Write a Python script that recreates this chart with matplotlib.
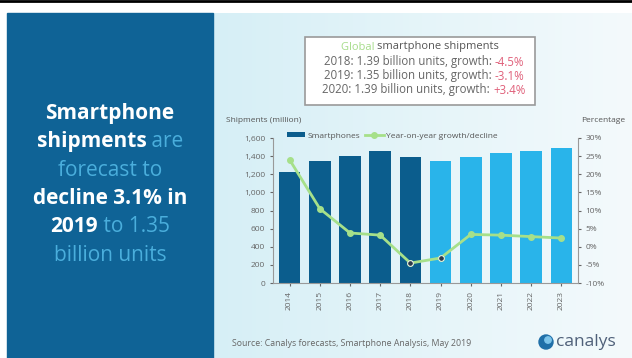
import matplotlib
matplotlib.use("Agg")
import matplotlib.pyplot as plt
import numpy as np
from matplotlib.patches import Rectangle, Circle

plt.rcParams['font.family'] = ['Open Sans', 'DejaVu Sans']

# data
years = ["2014", "2015", "2016", "2017", "2018", "2019", "2020", "2021", "2022", "2023"]
shipments = [1220, 1350, 1400, 1460, 1390, 1350, 1390, 1430, 1460, 1490]
growth = [24.0, 10.5, 3.8, 3.2, -4.5, -3.1, 3.4, 3.2, 2.8, 2.4]
forecast = [False, False, False, False, False, True, True, True, True, True]
box_lines = [("2018: 1.39 billion units, growth: ", "-4.5%"),
             ("2019: 1.35 billion units, growth: ", "-3.1%"),
             ("2020: 1.39 billion units, growth: ", "+3.4%")]

W, H = 632, 358
fig = plt.figure(figsize=(6.32, 3.58), dpi=100)
fig.patch.set_facecolor("white")

def fx(px):
    return px / W

def fy(py):
    return 1 - py / H

# background: dark panel on the left, light gradient on the right
bg = fig.add_axes([0, 0, 1, 1])
bg.axis("off")
grad = np.linspace(0, 1, 256).reshape(1, -1)
bg.imshow(grad, extent=[213, W, H, 13], aspect="auto",
          cmap=matplotlib.colors.LinearSegmentedColormap.from_list("g", ["#d6eff6", "#f4fafc"]))
bg.add_patch(Rectangle((7, 13), 206, H - 13, color="#0f6396"))
bg.plot([0, W], [1, 1], color="black", lw=2)
bg.set_xlim(0, W)
bg.set_ylim(H, 0)

# left panel text, mixed white bold / light blue
light = "#4aaedc"
left_lines = [[("Smartphone", "white", "bold")],
              [("shipments", "white", "bold"), (" are", light, "normal")],
              [("forecast to", light, "normal")],
              [("decline 3.1% in", "white", "bold")],
              [("2019", "white", "bold"), (" to 1.35", light, "normal")],
              [("billion units", light, "normal")]]
renderer = fig.canvas.get_renderer()
cx = 110
for i, parts in enumerate(left_lines):
    y = 113 + i * 28.5
    texts = []
    for s, c, w in parts:
        t = bg.text(0, y, s, color=c, fontweight=w, fontsize=15, va="center", ha="left")
        texts.append(t)
    widths = [t.get_window_extent(renderer).width for t in texts]
    x = cx - sum(widths) / 2
    for t, wd in zip(texts, widths):
        t.set_x(x)
        x += wd

# info box
bg.add_patch(Rectangle((305, 37), 230, 68, facecolor="white", edgecolor="#9a9a9a", lw=1.2))
t1 = bg.text(0, 47, "Global ", color="#a6dc8a", fontsize=8, va="center")
t2 = bg.text(0, 47, "smartphone shipments", color="#555555", fontsize=8, va="center")
w1 = t1.get_window_extent(renderer).width
w2 = t2.get_window_extent(renderer).width
t1.set_x(420 - (w1 + w2) / 2)
t2.set_x(420 - (w1 + w2) / 2 + w1)
for i, (a, b) in enumerate(box_lines):
    y = 62 + i * 14
    ta = bg.text(0, y, a, color="#666666", fontsize=8.3, va="center")
    tb = bg.text(0, y, b, color="#e0607a", fontsize=8.3, va="center")
    wa = ta.get_window_extent(renderer).width
    wb = tb.get_window_extent(renderer).width
    ta.set_x(424 - (wa + wb) / 2)
    tb.set_x(424 - (wa + wb) / 2 + wa)

# chart
ax = fig.add_axes([fx(273), fy(283), fx(578) - fx(273), fy(138) - fy(283)])
ax.patch.set_alpha(0)
x = np.arange(len(years))
colors = ["#29b4ea" if f else "#0b5d8d" for f in forecast]
ax.bar(x, shipments, width=0.72, color=colors, label="Smartphones")
ax.set_ylim(0, 1600)
ax.set_xlim(-0.55, len(years) - 0.45)
ax.set_yticks(range(0, 1601, 200))
ax.set_yticklabels([f"{v:,}" for v in range(0, 1601, 200)])
ax.set_xticks(x)
ax.set_xticklabels(years, rotation=90)
ax.tick_params(labelsize=6, colors="#666666", length=2)
for s in ["top", "right"]:
    ax.spines[s].set_visible(False)
for s in ["left", "bottom"]:
    ax.spines[s].set_color("#999999")

ax2 = ax.twinx()
ax2.plot(x, growth, color="#a6e08a", lw=2, marker="o", ms=4, mfc="#a6e08a", mec="#a6e08a",
         label="Year-on-year growth/decline")
ax2.plot(x[4:6], growth[4:6], ls="none", marker="o", ms=4, mfc="#2b3a4a", mec="white", mew=0.6)
ax2.set_ylim(-10, 30)
ax2.set_yticks(range(-10, 31, 5))
ax2.set_yticklabels([f"{v}%" for v in range(-10, 31, 5)])
ax2.tick_params(labelsize=6, colors="#666666", length=2)
for s in ["top", "left", "bottom"]:
    ax2.spines[s].set_visible(False)
ax2.spines["right"].set_color("#999999")

h1, l1 = ax.get_legend_handles_labels()
h2, l2 = ax2.get_legend_handles_labels()
ax.legend(h1 + h2, l1 + l2, loc="upper left", bbox_to_anchor=(0.02, 1.09), ncol=2,
          frameon=False, fontsize=6, handlelength=2.2, handleheight=0.5,
          columnspacing=0.6, handletextpad=0.3, labelcolor="#555555")

bg.text(226, 121, "Shipments (million)", fontsize=6, color="#555555", va="center")
bg.text(625, 121, "Percentage", fontsize=6, color="#555555", va="center", ha="right")

# footer
bg.text(232, 343, "Source: Canalys forecasts, Smartphone Analysis, May 2019",
        fontsize=6.3, color="#666666", va="center")
bg.add_patch(Circle((546, 342), 7, color="#1f6fa8"))
bg.add_patch(Circle((548, 340), 3.2, color="#7cc4ea"))
bg.text(556, 342, "canalys", fontsize=12.5, color="#4f6079", va="center")

fig.savefig("out.png", dpi=100)
